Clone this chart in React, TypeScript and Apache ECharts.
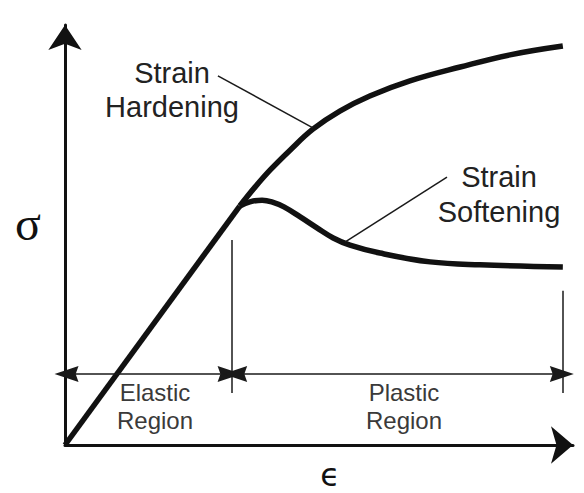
import React, { useEffect, useRef } from "react";
import * as echarts from "echarts";

// Stress-strain diagram data (arbitrary units: strain 0..100, stress 0..100)
const elasticStrain = [0, 34.4];
const elasticStress = [0, 56.9];
const hardeningStrain = [34.4, 37.4, 40.4, 44.3, 48.8, 54.1, 60.0, 67.9, 77.8, 87.6, 98.0];
const hardeningStress = [56.9, 61.4, 65.5, 70.2, 75.2, 79.5, 83.1, 86.7, 90.0, 92.9, 95.0];
const softeningStrain = [34.4, 36.4, 38.8, 40.7, 43.1, 46.3, 49.6, 52.8, 56.1, 62.0, 71.9, 81.7, 98.0];
const softeningStress = [56.9, 57.9, 58.3, 57.9, 56.7, 54.3, 51.7, 49.3, 47.6, 45.7, 43.6, 42.9, 42.4];

// Region boundaries (strain) and their tick-line extents (stress)
const boundaryStrain = [32.9, 98.0];
const boundaryTopStress = [48.8, 36.7];
const boundaryBottomStress = 12.4;
// Dimension arrows: [start strain, end strain] at given stress
const regionArrowStress = 16.9;
const elasticArrow = [0.3, 32.4];
const plasticArrow = [33.5, 97.8];
// Leader lines: [strainFrom, stressFrom, strainTo, stressTo]
const hardeningLeader = [30.1, 87.9, 48.8, 75.5];
const softeningLeader = [75.2, 63.8, 55.1, 48.3];

const curveLabels = ["Strain\nHardening", "Strain\nSoftening"];
const regionLabels = ["Elastic\nRegion", "Plastic\nRegion"];
const axisSymbols = ["σ", "ϵ"];

const zip = (xs: number[], ys: number[]) => xs.map((x, i) => [x, ys[i]]);

export default function App() {
  const ref = useRef<HTMLDivElement>(null);
  useEffect(() => {
    if (!ref.current) return;
    const chart = echarts.init(ref.current, undefined, { renderer: "svg" });
    const ink = "#111";
    const thin = { type: "solid", color: "#1a1a1a", width: 1.5 };
    const arrowHead = "path://M7,0 L14,21 L7,18.5 L0,21 Z";
    chart.setOption({
      animation: false,
      backgroundColor: "#fff",
      grid: { left: 65, right: 11, top: 25, bottom: 48, containLabel: false, outerBoundsMode: "none" },
      xAxis: {
        type: "value",
        min: 0,
        max: 100,
        axisLine: {
          show: true,
          onZero: false,
          symbol: ["none", "arrow"],
          symbolSize: [28, 22],
          lineStyle: { color: ink, width: 3 },
        },
        axisTick: { show: false },
        axisLabel: { show: false },
        splitLine: { show: false },
      },
      yAxis: {
        type: "value",
        min: 0,
        max: 100,
        axisLine: {
          show: true,
          onZero: false,
          symbol: ["none", "arrow"],
          symbolSize: [25, 25],
          lineStyle: { color: ink, width: 3 },
        },
        axisTick: { show: false },
        axisLabel: { show: false },
        splitLine: { show: false },
      },
      series: [
        {
          type: "line",
          data: zip(elasticStrain, elasticStress),
          showSymbol: false,
          lineStyle: { color: ink, width: 5.5 },
          silent: true,
          markLine: {
            silent: true,
            symbol: ["none", "none"],
            label: { show: false },
            lineStyle: thin,
            data: [
              [
                { coord: [hardeningLeader[0], hardeningLeader[1]] },
                { coord: [hardeningLeader[2], hardeningLeader[3]] },
              ],
              [
                { coord: [softeningLeader[0], softeningLeader[1]] },
                { coord: [softeningLeader[2], softeningLeader[3]] },
              ],
              [
                { coord: [boundaryStrain[0], boundaryBottomStress] },
                { coord: [boundaryStrain[0], boundaryTopStress[0]] },
              ],
              [
                { coord: [boundaryStrain[1], boundaryBottomStress] },
                { coord: [boundaryStrain[1], boundaryTopStress[1]] },
              ],
            ],
          },
        },
        {
          type: "line",
          data: zip(hardeningStrain, hardeningStress),
          smooth: 0.4,
          showSymbol: false,
          lineStyle: { color: ink, width: 5.5 },
          silent: true,
          markLine: {
            silent: true,
            symbol: [arrowHead, arrowHead],
            symbolSize: [16, 24],
            label: { show: false },
            lineStyle: thin,
            itemStyle: { color: "#1a1a1a" },
            data: [
              [
                { coord: [elasticArrow[0], regionArrowStress] },
                { coord: [elasticArrow[1], regionArrowStress] },
              ],
              [
                { coord: [plasticArrow[0], regionArrowStress] },
                { coord: [plasticArrow[1], regionArrowStress] },
              ],
            ],
          },
        },
        {
          type: "line",
          data: zip(softeningStrain, softeningStress),
          smooth: 0.4,
          showSymbol: false,
          lineStyle: { color: ink, width: 5.5 },
          silent: true,
        },
      ],
      graphic: [
        {
          type: "text",
          x: 172,
          y: 90,
          style: {
            text: curveLabels[0],
            fontFamily: "Liberation Sans, Arial, sans-serif",
            fontSize: 29,
            lineHeight: 34,
            fill: "#222",
            align: "center",
            verticalAlign: "middle",
          },
        },
        {
          type: "text",
          x: 499,
          y: 194,
          style: {
            text: curveLabels[1],
            fontFamily: "Liberation Sans, Arial, sans-serif",
            fontSize: 29,
            lineHeight: 35,
            fill: "#222",
            align: "center",
            verticalAlign: "middle",
          },
        },
        {
          type: "text",
          x: 155,
          y: 406,
          style: {
            text: regionLabels[0],
            fontFamily: "Liberation Sans, Arial, sans-serif",
            fontSize: 24,
            lineHeight: 28,
            fill: "#3a3a3a",
            align: "center",
            verticalAlign: "middle",
          },
        },
        {
          type: "text",
          x: 404,
          y: 406,
          style: {
            text: regionLabels[1],
            fontFamily: "Liberation Sans, Arial, sans-serif",
            fontSize: 24,
            lineHeight: 28,
            fill: "#3a3a3a",
            align: "center",
            verticalAlign: "middle",
          },
        },
        {
          type: "text",
          x: 28,
          y: 223,
          style: {
            text: axisSymbols[0],
            fontFamily: "Liberation Serif, DejaVu Serif, serif",
            fontSize: 48,
            fill: ink,
            align: "center",
            verticalAlign: "middle",
          },
        },
        {
          type: "text",
          x: 330,
          y: 475,
          style: {
            text: axisSymbols[1],
            fontFamily: "DejaVu Sans, sans-serif",
            fontSize: 32,
            fill: ink,
            align: "center",
            verticalAlign: "middle",
          },
        },
      ],
    });
    return () => chart.dispose();
  }, []);
  return (
    <div
      ref={ref}
      style={{ position: "absolute", left: 0, top: 0, width: 584, height: 493 }}
    />
  );
}
